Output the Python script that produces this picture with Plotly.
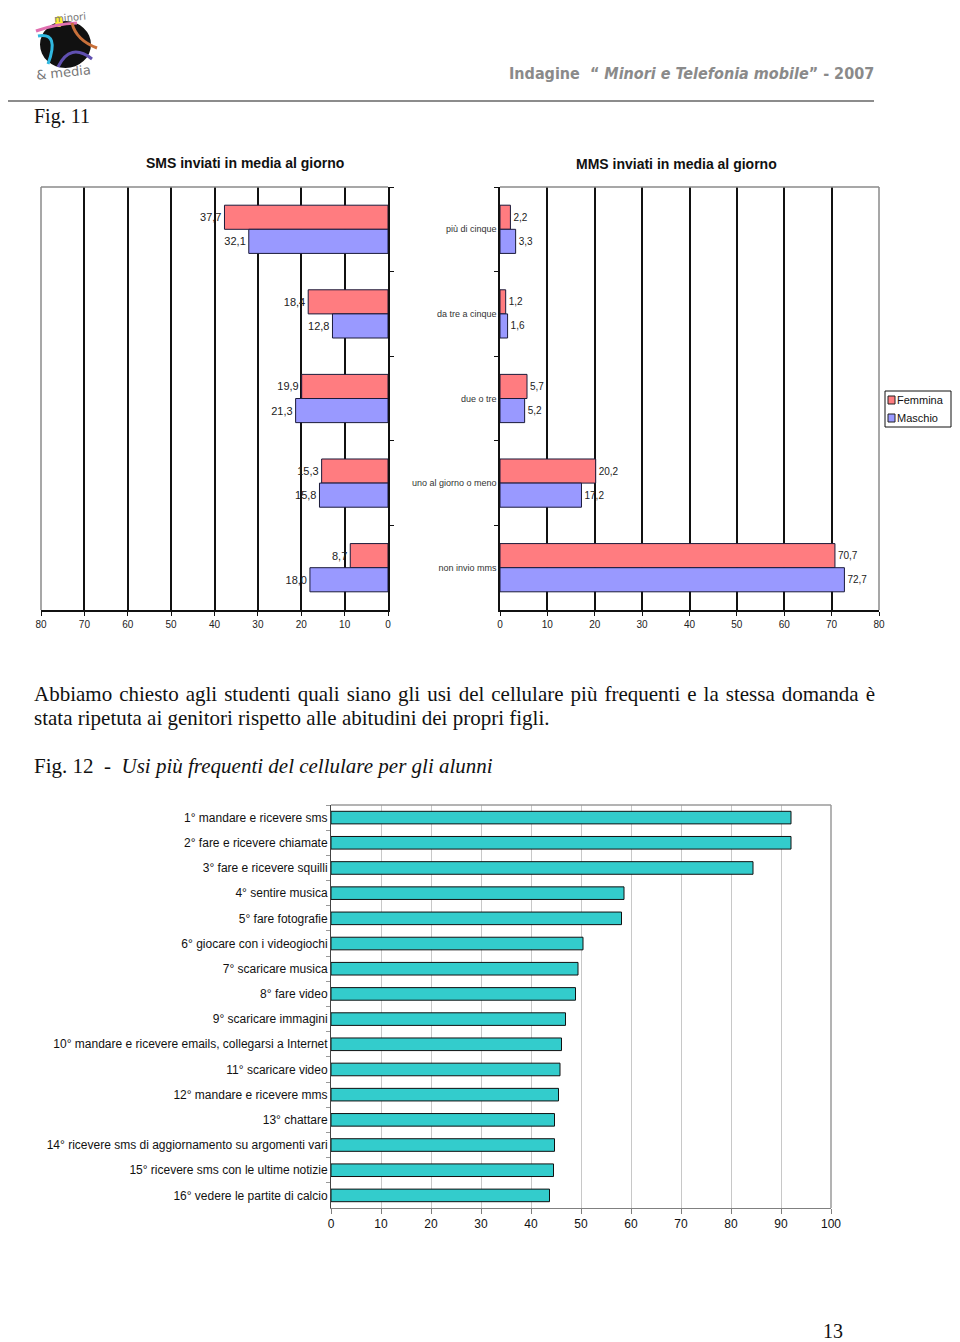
import plotly.graph_objects as go

# The page body has an 8px margin; the figure starts 8px in and runs to the window edges
OFF = 8
W, H = 960 - OFF, 1342 - OFF

# ---------------- data ----------------
cat_sms = ["più di cinque", "da tre a cinque", "due o tre", "uno al giorno o meno", "non invio mms"]
sms_femmina = [37.7, 18.4, 19.9, 15.3, 8.7]
sms_maschio = [32.1, 12.8, 21.3, 15.8, 18.0]
mms_femmina = [2.2, 1.2, 5.7, 20.2, 70.7]
mms_maschio = [3.3, 1.6, 5.2, 17.2, 72.7]
series_names = ["Femmina", "Maschio"]

usi_labels = [
    "1° mandare e ricevere sms",
    "2° fare e ricevere chiamate",
    "3° fare e ricevere squilli",
    "4° sentire musica",
    "5° fare fotografie",
    "6° giocare con i videogiochi",
    "7° scaricare musica",
    "8° fare video",
    "9° scaricare immagini",
    "10° mandare e ricevere emails, collegarsi a Internet",
    "11° scaricare video",
    "12° mandare e ricevere mms",
    "13° chattare",
    "14° ricevere sms di aggiornamento su argomenti vari",
    "15° ricevere sms con le ultime notizie",
    "16° vedere le partite di calcio",
]
usi_values = [92.0, 92.0, 84.4, 58.6, 58.1, 50.4, 49.4, 48.9, 46.9, 46.1, 45.8, 45.5, 44.7, 44.7, 44.5, 43.7]

sms_ticks = [0, 10, 20, 30, 40, 50, 60, 70, 80]
usi_ticks = [0, 10, 20, 30, 40, 50, 60, 70, 80, 90, 100]


def px(x):
    return min(max(x - OFF, 0), W) / W


def py(y):
    return 1 - min(max(y - OFF, 0), H) / H


RED = "#FF7C80"
BLUE = "#9999FF"
EDGE = "#1a1a3a"
TEAL = "#33CCCC"
SANS = "Liberation Sans, Arial, sans-serif"
SERIF = "Liberation Serif, Times New Roman, serif"

fig = go.Figure()

# ---- Fig. 11 left: SMS ----
for vals, nm, col in [(sms_femmina, series_names[0], RED), (sms_maschio, series_names[1], BLUE)]:
    fig.add_trace(go.Bar(y=cat_sms, x=vals, orientation="h", name=nm,
                         marker=dict(color=col, line=dict(color=EDGE, width=1)),
                         texttemplate="%{x:.1f}", textposition="outside", cliponaxis=False,
                         textfont=dict(size=11, family=SANS, color="#222"),
                         xaxis="x", yaxis="y", showlegend=False))
# ---- Fig. 11 right: MMS ----
for vals, nm, col in [(mms_femmina, series_names[0], RED), (mms_maschio, series_names[1], BLUE)]:
    fig.add_trace(go.Bar(y=cat_sms, x=vals, orientation="h", name=nm,
                         marker=dict(color=col, line=dict(color=EDGE, width=1)),
                         texttemplate="%{x:.1f}", textposition="outside", cliponaxis=False,
                         textfont=dict(size=10, family=SANS, color="#222"),
                         xaxis="x2", yaxis="y2", showlegend=False))
# ---- Fig. 12 ----
fig.add_trace(go.Bar(y=usi_labels, x=usi_values, orientation="h", name="alunni",
                     marker=dict(color=TEAL, line=dict(color="#111", width=1)),
                     xaxis="x3", yaxis="y3", showlegend=False, width=0.5))

sms_y_top, sms_y_bot = 187, 610
common_x1 = dict(tickmode="array", tickvals=sms_ticks, showgrid=True, gridcolor="#111", gridwidth=1.5,
                 showline=True, linecolor="#111", linewidth=1.5, ticks="outside", ticklen=4, tickcolor="#111",
                 zeroline=False, tickfont=dict(size=10, family=SANS, color="#222"), fixedrange=True)

fig.update_layout(
    width=W, height=H, autosize=False,
    margin=dict(l=0, r=0, t=0, b=0, pad=0, autoexpand=False),
    paper_bgcolor="white", plot_bgcolor="white",
    separators=",.",
    barmode="group", bargap=0.43, bargroupgap=0,
    showlegend=False,
    xaxis=dict(domain=[px(41), px(388)], range=[80, 0], anchor="y", **common_x1),
    yaxis=dict(domain=[py(sms_y_bot), py(sms_y_top)], anchor="x", side="right", type="category",
               autorange="reversed", tickson="boundaries", ticks="outside", ticklen=4, tickcolor="#111",
               showticklabels=False, showline=True, linecolor="#111", linewidth=1.5, showgrid=False),
    xaxis2=dict(domain=[px(500), px(879)], range=[0, 80], anchor="y2", **common_x1),
    yaxis2=dict(domain=[py(sms_y_bot), py(sms_y_top)], anchor="x2", side="left", type="category",
                autorange="reversed", tickson="boundaries", ticks="outside", ticklen=4, tickcolor="#111",
                showticklabels=True, tickfont=dict(size=9, family=SANS, color="#333"),
                showline=True, linecolor="#111", linewidth=1.5, showgrid=False),
    xaxis3=dict(domain=[px(331), px(831)], range=[0, 100], anchor="y3", tickmode="array", tickvals=usi_ticks,
                showgrid=True, gridcolor="#c8c8c8", gridwidth=1, showline=True, linecolor="#808080",
                ticks="outside", ticklen=5, tickcolor="#808080", zeroline=False,
                tickfont=dict(size=12, family=SANS, color="#111")),
    yaxis3=dict(domain=[py(1208), py(805)], anchor="x3", type="category", autorange="reversed",
                tickson="boundaries", ticks="outside", ticklen=4, tickcolor="#999",
                showline=True, linecolor="#444", linewidth=1, showgrid=False,
                tickfont=dict(size=12, family=SANS, color="#111")),
)

shapes = []
# grey frames (top/left of SMS, top/right of MMS, top/right of Fig.12)
for (x0, y0, x1, y1, c) in [(41, 187, 388, 187, "#8a8a8a"), (41, 187, 41, 610, "#8a8a8a"),
                            (500, 187, 879, 187, "#8a8a8a"), (879, 187, 879, 610, "#8a8a8a"),
                            (331, 805, 831, 805, "#9a9a9a"), (831, 805, 831, 1208, "#9a9a9a")]:
    shapes.append(dict(type="line", xref="paper", yref="paper", x0=px(x0), x1=px(x1), y0=py(y0), y1=py(y1),
                       line=dict(color=c, width=1.5)))
# header rule
shapes.append(dict(type="line", xref="paper", yref="paper", x0=px(3), x1=px(874), y0=py(101), y1=py(101),
                   line=dict(color="#8c8c8c", width=2)))

# legend box of Fig. 11
LX = 885
shapes.append(dict(type="rect", xref="paper", yref="paper", x0=px(LX), x1=px(LX + 66), y0=py(427), y1=py(391),
                   fillcolor="white", line=dict(color="#111", width=1)))
for (yc, col) in [(400, RED), (418, BLUE)]:
    shapes.append(dict(type="rect", xref="paper", yref="paper", x0=px(LX + 3), x1=px(LX + 10), y0=py(yc + 4),
                       y1=py(yc - 4), fillcolor=col, line=dict(color="#222", width=1)))


# logo (decorative)
def path(cmds):
    out = []
    for c in cmds:
        if isinstance(c, str):
            out.append(c)
        else:
            out.append(f"{px(c[0]):.5f},{py(c[1]):.5f}")
    return " ".join(out)


shapes.append(dict(type="circle", xref="paper", yref="paper", x0=px(40), x1=px(91), y0=py(68), y1=py(21),
                   fillcolor="#111", line=dict(width=0)))
shapes.append(dict(type="circle", xref="paper", yref="paper", x0=px(55), x1=px(63), y0=py(27), y1=py(16),
                   fillcolor="#ffee33", line=dict(width=0)))
shapes.append(dict(type="path", xref="paper", yref="paper",
                   path=path(["M", (36, 31), "Q", (55, 24), (77, 23)]), line=dict(color="#e070b0", width=3)))
shapes.append(dict(type="path", xref="paper", yref="paper",
                   path=path(["M", (38, 36), "Q", (60, 32), (48, 64)]), line=dict(color="#30b8e0", width=3)))
shapes.append(dict(type="path", xref="paper", yref="paper",
                   path=path(["M", (72, 23), "Q", (76, 40), (97, 48)]), line=dict(color="#c8703a", width=3)))
shapes.append(dict(type="path", xref="paper", yref="paper",
                   path=path(["M", (58, 67), "Q", (70, 42), (92, 59)]), line=dict(color="#6050b0", width=3)))
fig.update_layout(shapes=shapes)

ann = []


def txt(x, y, s, size, family=SANS, color="#111", xanchor="left", angle=0):
    ann.append(dict(x=px(x), y=py(y), xref="paper", yref="paper", text=s, showarrow=False,
                    xanchor=xanchor, yanchor="middle", textangle=angle, borderpad=0,
                    font=dict(size=size, family=family, color=color)))


# legend texts
txt(LX + 11, 400, series_names[0], 11)
txt(LX + 11, 418, series_names[1], 11)

# logo words
txt(70, 17, "minori", 10, family="DejaVu Sans", color="#777", xanchor="center", angle=-5)
txt(63, 72, "&amp; media", 13, family="DejaVu Sans", color="#777", xanchor="center", angle=-6)

# header
ann.append(dict(x=px(876), y=py(73), xref="paper", yref="paper", showarrow=False, xanchor="right",
                yanchor="middle",
                text="<b>Indagine  “ <i>Minori e Telefonia mobile</i>” - 2007</b>",
                font=dict(size=16, family="Liberation Sans Narrow, Arial Narrow, DejaVu Sans Condensed, sans-serif",
                          color="#8a8a8a")))

txt(33, 116, "Fig. 11", 20, family=SERIF)

# chart titles
txt(245, 163, "<b>SMS inviati in media al giorno</b>", 14, xanchor="center")
txt(676, 164, "<b>MMS inviati in media al giorno</b>", 14, xanchor="center")

# paragraph (first line justified in the original: hair spaces widen the gaps slightly)
line1 = "Abbiamo chiesto agli studenti quali siano gli usi del cellulare più frequenti e la stessa domanda è"
txt(33, 694, line1.replace(" ", " \u200a"), 21, family=SERIF)
txt(33, 718, "stata ripetuta ai genitori rispetto alle abitudini dei propri figli.", 21, family=SERIF)
txt(33, 766, "Fig. 12  -  <i>Usi più frequenti del cellulare per gli alunni</i>", 21, family=SERIF)

# page number
txt(833, 1331, "13", 20, family=SERIF, xanchor="center")

fig.update_layout(annotations=ann)

fig.write_html("out.html")
